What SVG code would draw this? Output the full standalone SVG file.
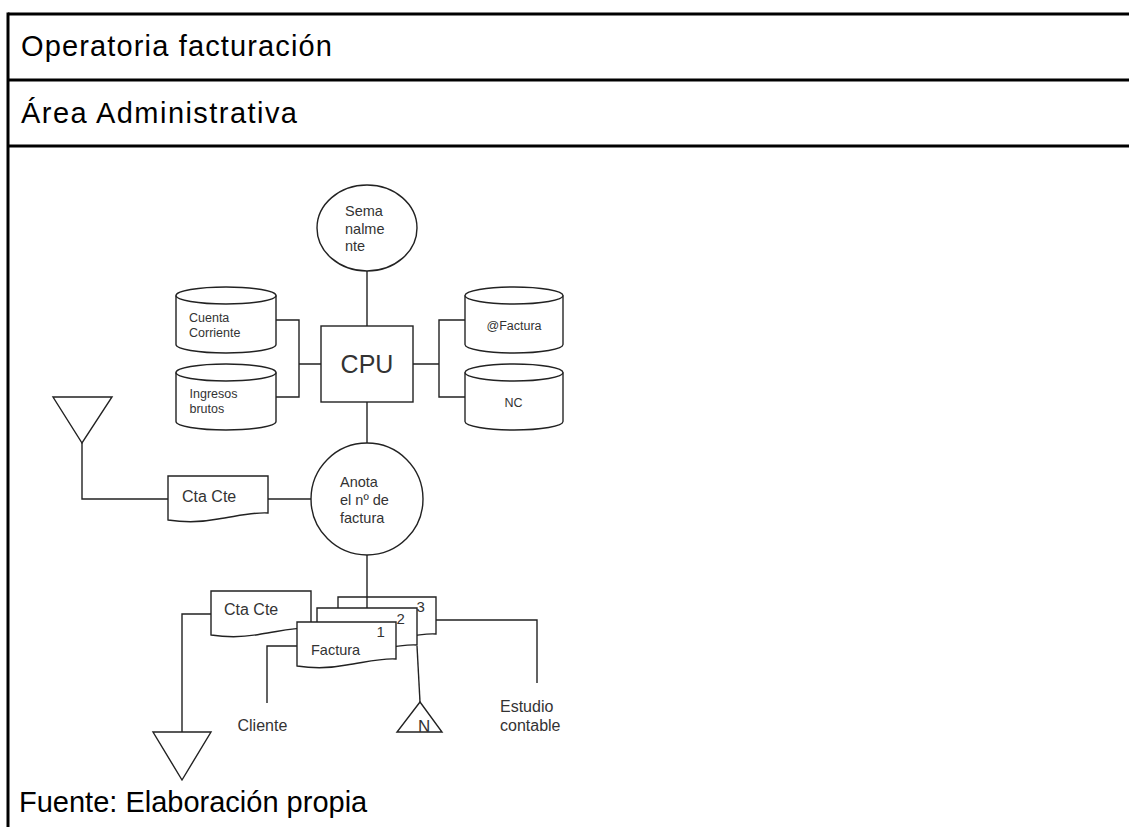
<svg xmlns="http://www.w3.org/2000/svg" width="1129" height="827" viewBox="0 0 1129 827">
  <style>
    .frame { stroke: #000; stroke-width: 3; fill: none; }
    .title { font-family: "Liberation Sans", Arial, sans-serif; font-size: 29px; fill: #000; }
    .shape { fill: #fff; stroke: #222; stroke-width: 1.4; }
    .wire { fill: none; stroke: #222; stroke-width: 1.4; }
    .lbl { font-family: "Liberation Sans", Arial, sans-serif; fill: #333; }
    .s12 { font-size: 12.5px; }
    .s14 { font-size: 14.5px; }
    .s16 { font-size: 16px; }
    .mid { text-anchor: middle; }
  </style>
  <defs>
    <!-- storage cylinder, 100 wide, 66 high -->
    <g id="cyl">
      <path class="shape" d="M0,8.5 A50,8.5 0 0 1 100,8.5 V57.5 A50,8.5 0 0 1 0,57.5 Z"/>
      <path class="wire" d="M0,8.5 A50,8.5 0 0 0 100,8.5"/>
    </g>
    <!-- document with wavy bottom edge -->
    <path id="doc" class="shape" d="M0,0 H100 V37 C85,36 70,40 50,43 C35,46 20,47 0,44 Z"/>
  </defs>

  <!-- table frame -->
  <g id="table">
    <line class="frame" x1="8" y1="14" x2="1129" y2="14"/>
    <line class="frame" x1="8" y1="80" x2="1129" y2="80"/>
    <line class="frame" x1="8" y1="146" x2="1129" y2="146"/>
    <line class="frame" x1="8" y1="12.5" x2="8" y2="827"/>
    <text class="title" x="21" y="56" textLength="311">Operatoria facturación</text>
    <text class="title" x="21" y="123" textLength="276">Área Administrativa</text>
    <text class="title" x="19" y="812">Fuente: Elaboración propia</text>
  </g>

  <g id="semanalmente">
    <ellipse class="shape" cx="367" cy="228" rx="50" ry="43"/>
    <text class="lbl s14" x="345" y="216">Sema</text>
    <text class="lbl s14" x="345" y="233.5">nalme</text>
    <text class="lbl s14" x="345" y="251">nte</text>
  </g>

  <g id="cpu">
    <rect class="shape" x="321" y="326" width="92" height="76"/>
    <text class="lbl mid" x="367" y="373" font-size="25" fill="#111">CPU</text>
  </g>

  <g id="cuenta-corriente">
    <use href="#cyl" x="176" y="287"/>
    <text class="lbl s12" x="189" y="322">Cuenta</text>
    <text class="lbl s12" x="189" y="337">Corriente</text>
  </g>

  <g id="ingresos-brutos">
    <use href="#cyl" x="176" y="364"/>
    <text class="lbl s12" x="189.5" y="398">Ingresos</text>
    <text class="lbl s12" x="189.5" y="413">brutos</text>
  </g>

  <g id="factura-db">
    <use href="#cyl" x="465" y="287" transform="translate(465 0) scale(0.98 1) translate(-465 0)"/>
    <text class="lbl s12 mid" x="514" y="329.5">@Factura</text>
  </g>

  <g id="nc">
    <use href="#cyl" x="465" y="364" transform="translate(465 0) scale(0.98 1) translate(-465 0)"/>
    <text class="lbl s12 mid" x="513.5" y="407">NC</text>
  </g>

  <g id="anota">
    <circle class="shape" cx="367" cy="499" r="56"/>
    <text class="lbl s14" x="340" y="487">Anota</text>
    <text class="lbl s14" x="340" y="505">el nº de</text>
    <text class="lbl s14" x="340" y="523">factura</text>
  </g>

  <g id="archivo-superior">
    <path class="shape" d="M53,397 H112 L82,443 Z"/>
  </g>

  <g id="cta-cte-1">
    <use href="#doc" x="168" y="476"/>
    <text class="lbl s16" x="182" y="502">Cta Cte</text>
  </g>

  <g id="cta-cte-2">
    <use href="#doc" x="211" y="591"/>
    <text class="lbl s16" x="224" y="614.5">Cta Cte</text>
  </g>

  <g id="copia-3">
    <use href="#doc" x="338" y="597" transform="translate(338 0) scale(0.98 1) translate(-338 0)"/>
    <text class="lbl" x="416.5" y="612" font-size="15">3</text>
  </g>

  <g id="copia-2">
    <use href="#doc" x="317" y="608"/>
    <text class="lbl" x="396.5" y="623.5" font-size="15">2</text>
  </g>

  <g id="factura-1">
    <use href="#doc" x="297" y="622" transform="translate(297 0) scale(0.99 1) translate(-297 0)"/>
    <text class="lbl" x="376.5" y="637" font-size="15">1</text>
    <text class="lbl s14" x="311" y="655">Factura</text>
  </g>

  <g id="cliente">
    <text class="lbl s16" x="237.5" y="731">Cliente</text>
  </g>

  <g id="estudio-contable">
    <text class="lbl s16" x="500" y="712">Estudio</text>
    <text class="lbl s16" x="500" y="731">contable</text>
  </g>

  <g id="archivo-n">
    <path class="shape" d="M420,702 L442,732 H397 Z"/>
    <text class="lbl" x="418" y="732" font-size="17" fill="#222">N</text>
  </g>

  <g id="archivo-inferior">
    <path class="shape" d="M153,732 H211 L182,780 Z"/>
  </g>

  <g id="connectors">
    <!-- Semanalmente to CPU, CPU to Anota, Anota to the copies -->
    <line class="wire" x1="367" y1="271" x2="367" y2="326"/>
    <line class="wire" x1="367" y1="402" x2="367" y2="443"/>
    <line class="wire" x1="367" y1="555" x2="367" y2="608"/>
    <!-- left storage bracket -->
    <path class="wire" d="M276,320 H299 V397 H276 M299,364 H321"/>
    <!-- right storage bracket -->
    <path class="wire" d="M465,320 H439 V397 H465 M413,364 H439"/>
    <!-- upper archive to Cta Cte to Anota -->
    <path class="wire" d="M82,443 V499 H168"/>
    <line class="wire" x1="268" y1="499" x2="311" y2="499"/>
    <!-- lower Cta Cte to archive -->
    <path class="wire" d="M211,614 H182 V732"/>
    <!-- Factura to Cliente -->
    <path class="wire" d="M297,646 H267 V703"/>
    <!-- copy 2 to archive N -->
    <line class="wire" x1="417" y1="646" x2="420" y2="702"/>
    <!-- copy 3 to Estudio contable -->
    <path class="wire" d="M436,620 H537 V683"/>
  </g>
</svg>
